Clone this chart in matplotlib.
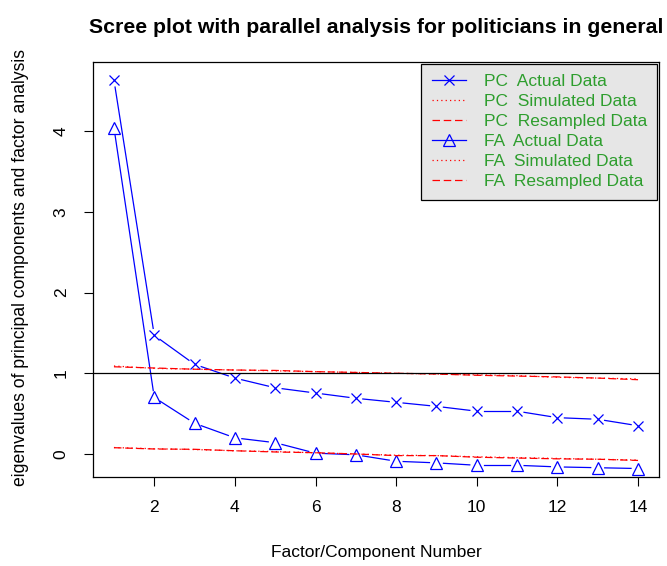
import numpy as np
import matplotlib
matplotlib.use("Agg")
import matplotlib.pyplot as plt
from matplotlib.lines import Line2D

plt.rcParams['font.family'] = ['Liberation Sans', 'DejaVu Sans']

# eigenvalues
factors = np.arange(1, 15)
pc_actual = [4.63, 1.47, 1.11, 0.94, 0.82, 0.755, 0.69, 0.64, 0.59, 0.53, 0.53, 0.45, 0.43, 0.35]
fa_actual = [4.04, 0.70, 0.38, 0.20, 0.14, 0.01, -0.01, -0.09, -0.11, -0.14, -0.14, -0.16, -0.17, -0.18]
pc_simulated = [1.09, 1.06, 1.05, 1.04, 1.03, 1.02, 1.01, 1.00, 0.99, 0.98, 0.97, 0.95, 0.94, 0.93]
pc_resampled = [1.08, 1.065, 1.05, 1.04, 1.035, 1.02, 1.01, 1.00, 0.99, 0.975, 0.965, 0.955, 0.94, 0.92]
fa_simulated = [0.08, 0.065, 0.055, 0.04, 0.03, 0.015, 0.0, -0.015, -0.02, -0.035, -0.045, -0.055, -0.065, -0.075]
fa_resampled = [0.078, 0.062, 0.058, 0.04, 0.025, 0.016, 0.0, -0.02, -0.02, -0.04, -0.05, -0.06, -0.065, -0.08]

legend_labels = ['PC  Actual Data', 'PC  Simulated Data', 'PC  Resampled Data',
                 'FA  Actual Data', 'FA  Simulated Data', 'FA  Resampled Data']

fig = plt.figure(figsize=(6.67, 5.66), dpi=100)
ax = fig.add_axes([93/667, 89/566, 566/667, 415/566])
ax.set_xlim(0.48, 14.52)
ax.set_ylim(-0.285, 4.855)


def b_line(ax, x, y, gap=7, **kw):
    # R type="b": segments stop short of the points
    pts = ax.transData.transform(np.column_stack([x, y]))
    inv = ax.transData.inverted()
    for p, q in zip(pts[:-1], pts[1:]):
        d = q - p
        L = np.hypot(*d)
        if L <= 2 * gap:
            continue
        u = d / L
        seg = inv.transform([p + u * gap, q - u * gap])
        ax.plot(seg[:, 0], seg[:, 1], **kw)


blue = '#0000FF'
red = '#FF0000'
dash = (0, (6, 3))
dot = (0, (1, 2.5))

b_line(ax, factors, pc_actual, color=blue, lw=0.9)
ax.plot(factors, pc_actual, ls='none', marker='x', ms=7.5, mew=0.9, color=blue)
b_line(ax, factors, fa_actual, color=blue, lw=0.9)
ax.plot(factors, fa_actual, ls='none', marker='^', ms=9, mew=0.9, mfc='none', mec=blue)

ax.plot(factors, pc_simulated, color=red, lw=0.9, ls=dot)
ax.plot(factors, pc_resampled, color=red, lw=0.9, ls=dash)
ax.plot(factors, fa_simulated, color=red, lw=0.9, ls=dot)
ax.plot(factors, fa_resampled, color=red, lw=0.9, ls=dash)

ax.axhline(1, color='black', lw=0.9)

ax.set_xticks([2, 4, 6, 8, 10, 12, 14])
ax.set_yticks([0, 1, 2, 3, 4])
ax.tick_params(axis='both', direction='out', length=6.5, width=0.8, labelsize=12.5)
ax.tick_params(axis='x', pad=10)
ax.tick_params(axis='y', pad=11, labelrotation=90)
for lab in ax.get_yticklabels():
    lab.set_va('center')
for s in ax.spines.values():
    s.set_linewidth(0.9)

ax.set_title('Scree plot with parallel analysis for politicians in general',
             fontsize=15.3, fontweight='bold', pad=21)
ax.set_xlabel('Factor/Component Number', fontsize=12.5, va='center')
ax.xaxis.set_label_coords(0.5, -(552 - 477) / 415)
ax.set_ylabel('eigenvalues of principal components and factor analysis', fontsize=12.7, va='center')
ax.yaxis.set_label_coords(-(93 - 21) / 566, (477 - 267) / 415)

handles = [
    Line2D([], [], color=blue, lw=0.9, marker='x', ms=7.5, mew=0.9),
    Line2D([], [], color=red, lw=0.9, ls=dot),
    Line2D([], [], color=red, lw=0.9, ls=dash),
    Line2D([], [], color=blue, lw=0.9, marker='^', ms=9, mew=0.9, mfc='none'),
    Line2D([], [], color=red, lw=0.9, ls=dot),
    Line2D([], [], color=red, lw=0.9, ls=dash),
]
leg = ax.legend(handles, legend_labels, loc='upper right', borderaxespad=0.1,
                fontsize=12.5, labelcolor='#2E9E2E', facecolor='#E6E6E6',
                edgecolor='black', fancybox=False, framealpha=1,
                handlelength=2.0, handletextpad=1.0, borderpad=0.6, labelspacing=0.28)
leg.get_frame().set_linewidth(0.9)

fig.savefig('out.png', dpi=100)
